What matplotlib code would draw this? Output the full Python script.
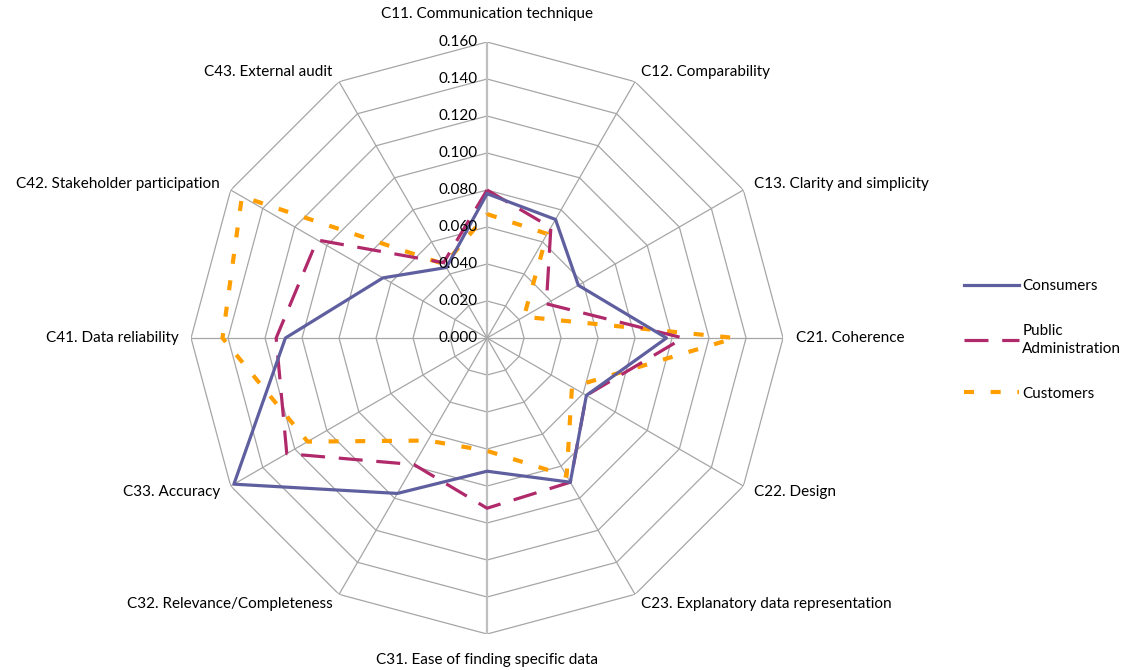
import numpy as np
import matplotlib.pyplot as plt

plt.rcParams['font.family'] = ['Lato', 'DejaVu Sans']

# Criteria around the chart, clockwise from the top
criteria = [
    "C11. Communication technique", "C12. Comparability", "C13. Clarity and simplicity",
    "C21. Coherence", "C22. Design", "C23. Explanatory data representation",
    "C31. Ease of finding specific data", "C32. Relevance/Completeness", "C33. Accuracy",
    "C41. Data reliability", "C42. Stakeholder participation", "C43. External audit",
]

consumers = [0.078, 0.074, 0.057, 0.097, 0.062, 0.090, 0.072, 0.097, 0.158, 0.109, 0.065, 0.044]
public_admin = [0.080, 0.069, 0.037, 0.106, 0.062, 0.090, 0.092, 0.079, 0.125, 0.114, 0.106, 0.047]
customers = [0.067, 0.065, 0.023, 0.134, 0.053, 0.086, 0.061, 0.064, 0.112, 0.143, 0.153, 0.046]

ticks = [0.000, 0.020, 0.040, 0.060, 0.080, 0.100, 0.120, 0.140, 0.160]
rmax = 0.160

n = len(criteria)
theta = np.arange(n) * 2 * np.pi / n
theta_closed = np.append(theta, theta[0])


def closed(values):
    return np.append(values, values[0])


fig = plt.figure(figsize=(11.29, 6.70), dpi=100)
ax = fig.add_axes([0.1692, 0.0537, 0.5244, 0.8836], projection='polar')
ax.set_theta_zero_location('N')
ax.set_theta_direction(-1)
ax.set_ylim(0, rmax)
ax.grid(False)
ax.spines['polar'].set_visible(False)
ax.set_xticks([])
ax.set_yticks([])
ax.patch.set_alpha(0)

grid_color = '#a6a6a6'
# polygon rings
for t in ticks[1:]:
    ax.plot(theta_closed, [t] * (n + 1), color=grid_color, lw=0.9, zorder=1)
# spokes
for i, th in enumerate(theta):
    if i in (0, 6):
        ax.plot([th, th], [0, rmax], color='#bfbfbf', lw=1.6, zorder=1)
    else:
        ax.plot([th, th], [0, rmax], color=grid_color, lw=0.9, zorder=1)

# value labels on the vertical axis
for t in ticks:
    ax.annotate(f"{t:.3f}", xy=(0, t), xytext=(-7, 0), textcoords='offset points',
                ha='right', va='center', fontsize=11, color='black', zorder=5)

# category labels
for i, (th, name) in enumerate(zip(theta, criteria)):
    s, c = np.sin(th), np.cos(th)
    if i == 0:
        off, ha = (0, 20), 'center'
    elif i == 6:
        off, ha = (0, -19), 'center'
    else:
        off = (9 * s, 8 * c)
        ha = 'left' if s > 0 else 'right'
    ax.annotate(name, xy=(th, rmax), xytext=off, textcoords='offset points',
                ha=ha, va='center', fontsize=11, annotation_clip=False)

ax.plot(theta_closed, closed(consumers), color='#5f5fa0', lw=2.3,
        label='Consumers', zorder=4)
ax.plot(theta_closed, closed(public_admin), color='#b0296a', lw=2.3,
        dashes=(7.5, 4.3), label='Public\nAdministration', zorder=3)
ax.plot(theta_closed, closed(customers), color='#ff9e00', lw=3.0,
        dashes=(2.4, 4.0), label='Customers', zorder=2)

leg = fig.legend(loc='center left', bbox_to_anchor=(0.842, 0.4925), frameon=False,
                 fontsize=11, handlelength=3.6, handletextpad=0.2, labelspacing=2.0)
for txt in leg.get_texts():
    txt.set_linespacing(1.4)

fig.savefig('out.png', dpi=100)
